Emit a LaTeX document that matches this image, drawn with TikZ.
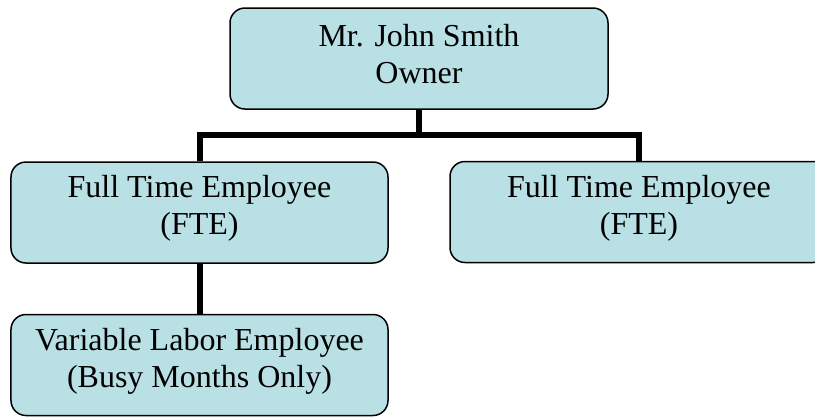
\documentclass[tikz,border=0pt]{standalone}
\usepackage{fontspec}
\setmainfont{Liberation Serif}
\definecolor{boxfill}{RGB}{185,224,228}
\begin{document}
\begin{tikzpicture}[x=1bp,y=-1bp,
  box/.style={draw=black, line width=1.5bp, fill=boxfill, rounded corners=15bp,
    minimum width=#1, minimum height=101bp, inner sep=0pt},
  txt/.style={font=\fontsize{32bp}{37bp}\selectfont, align=center, inner sep=0pt},
  conn/.style={draw=black, line width=6bp, line join=miter}]
\useasboundingbox (0,0) rectangle (815,416);
\node[box=378bp] (top) at (419,58.5) {};
\node[box=377bp] (lft) at (199.5,212.5) {};
\node[box=378bp] (rgt) at (639,212) {};
\node[box=377bp] (bot) at (199.5,365) {};
\node[txt] (toptxt) at ([yshift=4bp]top.center) {Mr. John Smith\\Owner};
\node[txt] (lfttxt) at ([yshift=4bp]lft.center) {Full Time Employee\\(FTE)};
\node[txt] (rgttxt) at ([yshift=4bp]rgt.center) {Full Time Employee\\(FTE)};
\node[txt] (bottxt) at ([yshift=4bp]bot.center) {Variable Labor Employee\\(Busy Months Only)};
\coordinate (bus) at (419,135);
\draw[conn] (top.south) -- (bus);
\draw[conn] (lft.north) |- (bus) -| (rgt.north);
\draw[conn] (lft.south) -- (bot.north);
\end{tikzpicture}
\end{document}
